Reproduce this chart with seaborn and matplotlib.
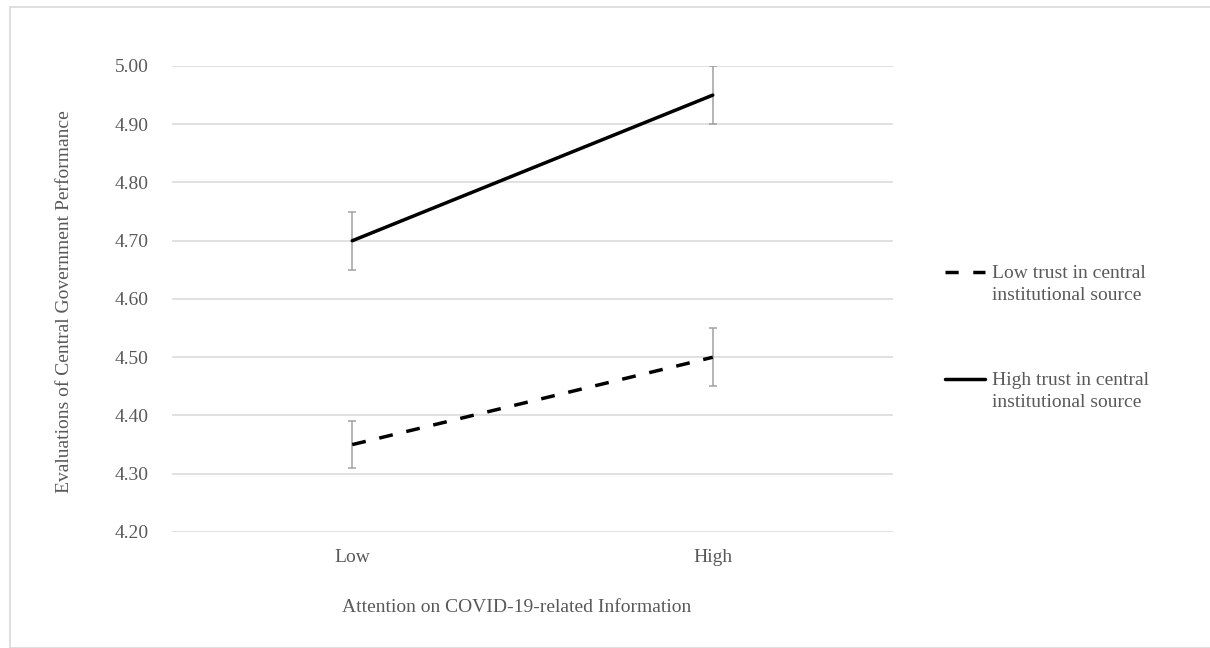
import matplotlib
matplotlib.use("Agg")
import matplotlib.pyplot as plt
import seaborn as sns
import pandas as pd
from matplotlib.lines import Line2D
from matplotlib.patches import Rectangle

# data
attention = ["Low", "High"]
low_trust = [4.35, 4.50]
low_trust_err = [0.04, 0.05]
high_trust = [4.70, 4.95]
high_trust_err = [0.05, 0.05]
group_names = ["Low trust in central\ninstitutional source",
               "High trust in central\ninstitutional source"]

df = pd.DataFrame({
    "attention": attention * 2,
    "score": low_trust + high_trust,
    "err": low_trust_err + high_trust_err,
    "group": [group_names[0]] * 2 + [group_names[1]] * 2,
})

sns.set_theme(style="white")
plt.rcParams['font.family'] = ['Liberation Serif', 'DejaVu Serif']
text_col = "#595959"
dash = (4, 4)

fig = plt.figure(figsize=(12.1, 6.48), dpi=100)
ax = fig.add_axes([172 / 1210, 1 - 532 / 648, 721 / 1210, 466 / 648])

# error bars first, so lines sit on top
for g in group_names:
    sub = df[df["group"] == g]
    ax.errorbar(range(len(sub)), sub["score"], yerr=sub["err"], fmt="none",
                ecolor="#a0a0a0", elinewidth=1.1, capsize=3, capthick=1.1, zorder=2)

sns.lineplot(data=df, x="attention", y="score", style="group", hue="group",
             palette=["black", "black"], dashes=[dash, ""], linewidth=2.5,
             sort=False, legend=False, ax=ax, zorder=3)

ax.set_xlim(-0.5, 1.5)
ax.set_ylim(4.2, 5.0)
ax.set_yticks([4.2 + 0.1 * i for i in range(9)])
ax.set_yticklabels([f"{4.2 + 0.1 * i:.2f}" for i in range(9)])
ax.yaxis.grid(True, color="#d9d9d9", linewidth=1.1)
ax.xaxis.grid(False)
for s in ax.spines.values():
    s.set_visible(False)
ax.tick_params(axis="both", length=0, labelsize=14, labelcolor=text_col)
ax.tick_params(axis="y", pad=17)
ax.tick_params(axis="x", pad=12)

ax.set_xlabel("")
ax.set_ylabel("")
fig.text(517 / 1210, 1 - 607 / 648, "Attention on COVID-19-related Information",
         ha="center", va="center", fontsize=14, color=text_col)
fig.text(65 / 1210, 1 - 302 / 648, "Evaluations of Central Government Performance",
         ha="center", va="center", rotation=90, fontsize=14, color=text_col)

# legend drawn by hand: handle lines up with the first text line, as in the original
for name, ls, y in zip(group_names, [(3.8, 4.2), None], [272, 379]):
    yf = 1 - y / 648
    ln = Line2D([945 / 1210, 985 / 1210], [yf, yf], transform=fig.transFigure,
                color="black", lw=2.5)
    if ls:
        ln.set_dashes(ls)
    fig.lines.append(ln)
    fig.text(992 / 1210, 1 - (y - 7) / 648, name, ha="left", va="top",
             fontsize=14, color=text_col, linespacing=1.38)

# light frame around the chart area
fig.patches.append(Rectangle((10 / 1210, 0), 1.0, 1 - 7 / 648, transform=fig.transFigure,
                             fill=False, edgecolor="#d9d9d9", linewidth=1.2))

fig.savefig("out.png", dpi=100)
